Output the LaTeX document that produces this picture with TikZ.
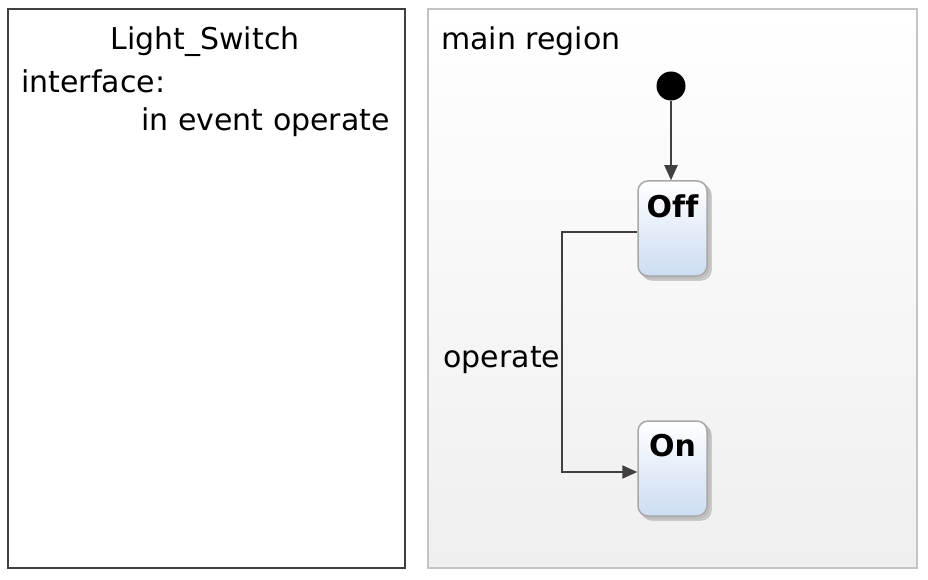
\documentclass[tikz,border=0pt]{standalone}
\usepackage{fontspec}
\setmainfont{DejaVu Sans}
\usetikzlibrary{shadows,arrows.meta}
\definecolor{edgecol}{HTML}{404040}
\definecolor{regionborder}{HTML}{C4C4C4}
\definecolor{regionbottom}{HTML}{EFEFEF}
\definecolor{stateblue}{HTML}{CCDCF2}
\definecolor{stateborder}{HTML}{A8A8A8}
\begin{document}
\begin{tikzpicture}[x=1pt,y=-1pt,
  txt/.style={inner sep=0pt, font=\fontsize{30}{36}\selectfont},
  statebox/.style={draw=stateborder, line width=1.5pt, rounded corners=10pt,
    top color=white, bottom color=stateblue,
    minimum width=69pt, minimum height=95pt, inner sep=0pt,
    double copy shadow={shadow xshift=2pt, shadow yshift=-2pt, draw=black!30, fill=black!25, opacity=.6}},
  statename/.style={anchor=north, inner sep=0pt, yshift=-14pt,
    font=\fontsize{30}{36}\selectfont\bfseries},
  trans/.style={draw=edgecol, line width=2pt, -{Triangle[length=15pt,width=13pt]}}]
\useasboundingbox (0,0) rectangle (928,580);
% interface box
\node[draw=edgecol, line width=1.8pt, fill=white, minimum width=397pt,
  minimum height=559pt, inner sep=0pt] (iface) at (206.5,288.5) {};
\node[txt, anchor=base] (title) at (205,50) {Light\_Switch};
\node[txt, anchor=base west] (ifl) at (21,93) {interface:};
\node[txt, anchor=base west] (ev) at (141,131) {in event operate};
% region
\node[draw=regionborder, line width=1.5pt, top color=white, bottom color=regionbottom,
  minimum width=489pt, minimum height=559pt, inner sep=0pt] (region) at (672.5,288.5) {};
\node[txt, anchor=base west] (rname) at (441,50) {main region};
% states
\node[circle, fill=black, minimum size=29pt, inner sep=0pt] (init) at (671,86) {};
\node[statebox, label={[statename]north:O\mbox{f}\mbox{f}}] (off) at (672.5,228.5) {};
\node[statebox, label={[statename]north:On}] (on) at (672.5,468.5) {};
% transitions
\draw[trans] (init) -- (init |- off.north);
\draw[trans] ([yshift=-3.5pt]off.west) -- ++(-75pt,0pt) |- ([yshift=-3.5pt]on.west)
  node[txt, pos=0.25, left=1pt, yshift=-8pt] (lbl) {operate};
\end{tikzpicture}
\end{document}
